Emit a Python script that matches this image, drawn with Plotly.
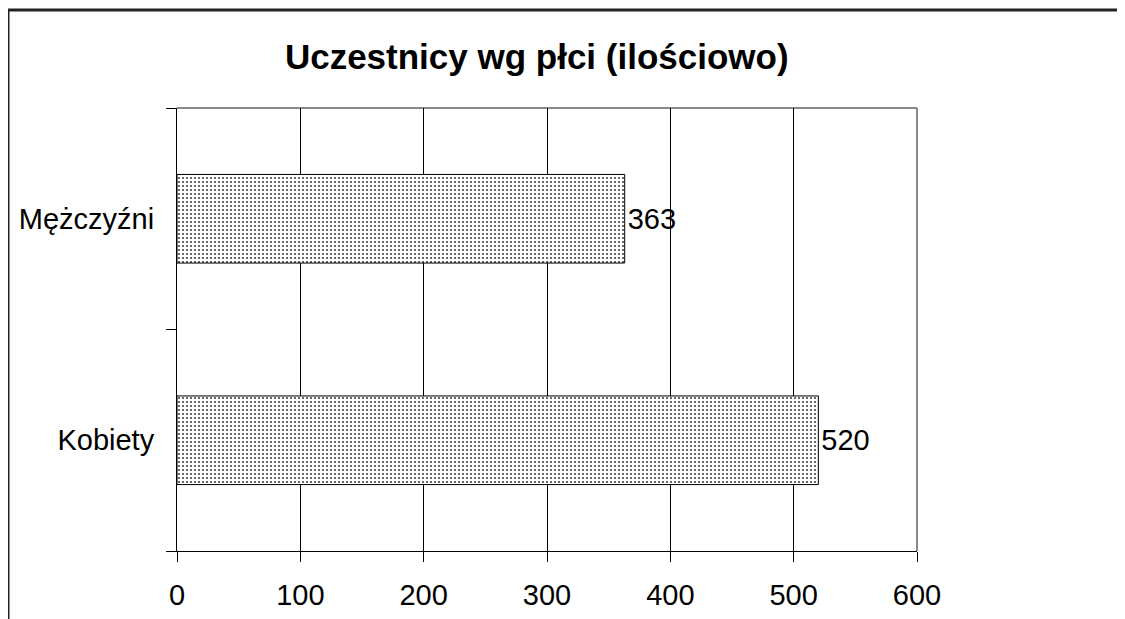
import plotly.graph_objects as go

categories = ["Kobiety", "Mężczyźni"]
values = [520, 363]
x_ticks = [0, 100, 200, 300, 400, 500, 600]
title_text = "Uczestnicy wg płci (ilościowo)"

FONT = "Liberation Sans, Arial, sans-serif"

fig = go.Figure()
fig.add_trace(go.Bar(
    y=categories,
    x=values,
    orientation="h",
    width=0.4,
    text=[str(v) for v in values],
    textposition="outside",
    textfont=dict(family=FONT, size=29, color="black"),
    cliponaxis=False,
    marker=dict(
        color="white",
        line=dict(color="black", width=1),
        pattern=dict(shape=".", size=4, solidity=0.22, fgcolor="#444444", bgcolor="white", fillmode="replace"),
    ),
))

# page coordinates are offset by 8px (body margin); plot area in page: x 177-917, y 108-551
PX0, PX1, PY0, PY1 = 177, 917, 108, 551
W, H = PX1 - PX0, PY1 - PY0

fig.update_layout(
    width=1125, height=619,
    margin=dict(l=169, r=216, t=100, b=76),
    paper_bgcolor="white",
    plot_bgcolor="white",
    showlegend=False,
    title=dict(text="<b>" + title_text + "</b>", x=0.470, xanchor="center", y=0.922, yanchor="middle",
               font=dict(family=FONT, size=35, color="black")),
    font=dict(family=FONT, size=29, color="black"),
    xaxis=dict(
        range=[0, 600], tickvals=x_ticks, ticktext=[str(t) for t in x_ticks],
        showgrid=True, gridcolor="black", gridwidth=1,
        showline=True, linecolor="black", linewidth=1,
        ticks="outside", ticklen=10, tickcolor="black", tickwidth=1,
        zeroline=False, fixedrange=True,
        tickfont=dict(family=FONT, size=29, color="black"),
        ticklabelstandoff=8,
    ),
    yaxis=dict(
        type="category", categoryorder="array", categoryarray=categories,
        range=[-0.5, 1.5],
        tickson="boundaries", ticks="outside", ticklen=10, tickcolor="black", tickwidth=1,
        showgrid=False, showline=True, linecolor="black", linewidth=1,
        tickfont=dict(family=FONT, size=29, color="black"),
        ticklabelstandoff=16,
    ),
    shapes=[
        dict(type="line", xref="paper", yref="paper", x0=0, x1=1, y0=1, y1=1,
             line=dict(color="#888888", width=2), layer="below"),
        dict(type="line", xref="paper", yref="paper", x0=1, x1=1, y0=0, y1=1,
             line=dict(color="#888888", width=2), layer="below"),
        dict(type="rect", xref="paper", yref="paper",
             x0=(8 - PX0) / W, x1=(1150 - PX0) / W,
             y0=(PY1 - 650) / H, y1=(PY1 - 10) / H,
             line=dict(color="#222222", width=3)),
    ],
)

fig.write_html("out.html")
